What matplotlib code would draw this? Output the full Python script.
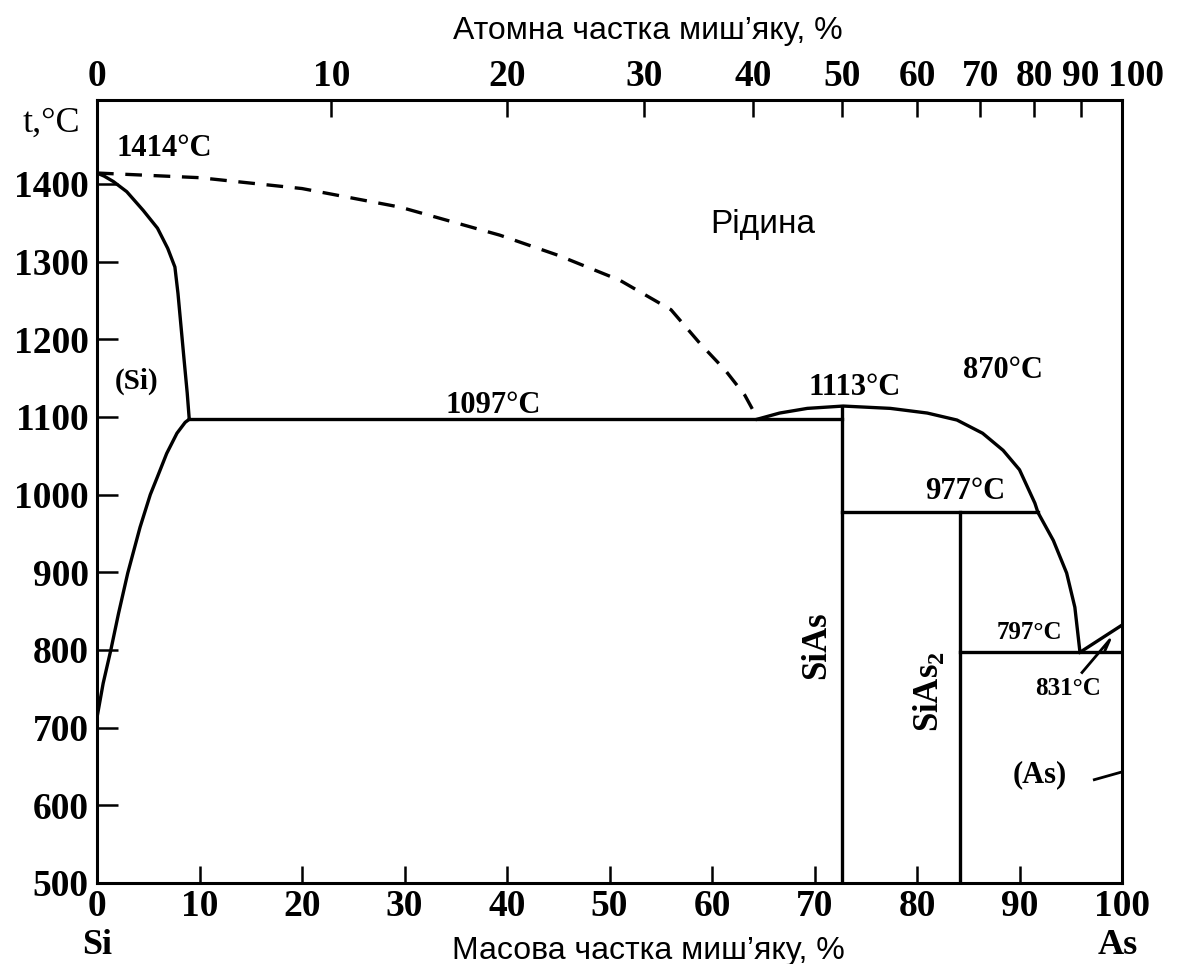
import matplotlib.pyplot as plt
import matplotlib.transforms as mtransforms
import numpy as np

plt.rcParams["font.family"] = ["Liberation Serif", "DejaVu Serif"]
plt.rcParams["mathtext.fontset"] = "custom"
plt.rcParams["mathtext.rm"] = "Liberation Serif"
plt.rcParams["mathtext.bf"] = "Liberation Serif:bold"

M_AS = 74.92
M_SI = 28.09

# ---- phase boundaries, (mass % As, t °C) ----
si_solidus_x = [0, 0.7, 1.6, 2.9, 4.5, 5.9, 6.9, 7.6, 7.9, 8.2, 8.5, 8.8, 9.0]
si_solidus_t = [1414, 1410, 1403, 1390, 1366, 1343, 1317, 1293, 1259, 1216, 1173, 1131, 1097]

si_solvus_x = [0, 0.6, 1.35, 2.1, 3.0, 4.2, 5.2, 5.9, 6.8, 7.8, 8.6, 9.0]
si_solvus_t = [713, 757, 800, 847, 899, 958, 1000, 1023, 1053, 1079, 1093, 1097]

liq_dash_x = [0, 10, 20, 29.6, 39.3, 45, 51, 56, 58.8, 61.3, 63.2, 64.4]
liq_dash_t = [1414, 1408, 1394, 1370, 1334, 1308, 1276, 1238, 1195, 1160, 1128, 1099]

liq_right_x = [64.4, 66.6, 69.3, 72.8, 77.4, 81.0, 83.9, 86.4, 88.4, 90.0,
               91.5, 91.8, 93.3, 94.6, 95.4, 95.9]
liq_right_t = [1097, 1105, 1111, 1114, 1111, 1105, 1096, 1079, 1057, 1032,
               989, 977, 941, 899, 855, 797]

as_liq_x = [95.9, 100]
as_liq_t = [797, 832]
leader_831_x = [96.1, 98.8, 98.3]
leader_831_t = [771, 813, 798]
leader_as_x = [97.3, 100]
leader_as_t = [633, 643]

eut_1097 = (9.0, 72.7, 1097)
per_977 = (72.7, 91.8, 977)
eut_797 = (84.2, 100, 797)
siAs_x, siAs_top = 72.7, 1113
siAs2_x, siAs2_top = 84.2, 977

labels = [
    ("1414°C", 1.95, 1445, 22),
    ("(Si)", 1.75, 1146, 21),
    ("1097°C", 34.0, 1115, 22),
    ("1113°C", 69.4, 1138, 22),
    ("870°C", 84.5, 1160, 22),
    ("977°C", 80.8, 1004, 22),
    ("797°C", 87.8, 823, 18),
    ("831°C", 91.5, 751, 18),
    ("(As)", 89.3, 639, 22),
]

mass_ticks = np.arange(0, 101, 10)
atom_ticks = np.arange(0, 101, 10)
t_ticks = np.arange(500, 1401, 100)


def atomic_to_mass(a):
    a = np.asarray(a, dtype=float)
    return 100 * a * M_AS / (a * M_AS + (100 - a) * M_SI + 1e-12)


def mass_to_atomic(w):
    w = np.asarray(w, dtype=float)
    return 100 * (w / M_AS) / (w / M_AS + (100 - w) / M_SI + 1e-12)


fig = plt.figure(figsize=(11.95, 9.64), dpi=100)
ax = fig.add_axes([97 / 1195, 81 / 964, 1025 / 1195, 783 / 964])

lw = 2.4
ax.plot(si_solidus_x, si_solidus_t, color="black", lw=lw)
ax.plot(si_solvus_x, si_solvus_t, color="black", lw=lw)
ax.plot(liq_dash_x, liq_dash_t, color="black", lw=lw, ls=(0, (5, 3.5)))
ax.plot(liq_right_x, liq_right_t, color="black", lw=lw)
ax.plot(as_liq_x, as_liq_t, color="black", lw=lw)
ax.plot(leader_831_x, leader_831_t, color="black", lw=2.0)
ax.plot(leader_as_x, leader_as_t, color="black", lw=2.0)

for x0, x1, t in [eut_1097, per_977, eut_797]:
    ax.plot([x0, x1], [t, t], color="black", lw=lw)
ax.plot([siAs_x, siAs_x], [500, siAs_top], color="black", lw=lw)
ax.plot([siAs2_x, siAs2_x], [500, siAs2_top], color="black", lw=lw)

for text, x, t, fs in labels:
    ax.text(x, t, text, fontsize=fs, fontweight="bold", va="center", ha="left")

ax.text(70.2, 806, "SiAs", fontsize=25, fontweight="bold", rotation=90,
        ha="center", va="center")
ax.text(81.1, 746, r"SiAs$_\mathbf{2}$", fontsize=25, fontweight="bold", rotation=90,
        ha="center", va="center")
ax.text(59.8, 1348, "Рідина", fontsize=24, family=["Liberation Sans"],
        ha="left", va="center")

ax.set_xlim(0, 100)
ax.set_ylim(500, 1508)
ax.set_xticks(mass_ticks)
ax.set_yticks(t_ticks)
ax.tick_params(direction="in", length=12, width=1.8, labelsize=27, pad=4)
ax.tick_params(axis="y", length=15, pad=6)
for lab in ax.get_xticklabels() + ax.get_yticklabels():
    lab.set_fontweight("bold")
for sp in ax.spines.values():
    sp.set_linewidth(2.2)

top = ax.secondary_xaxis("top", functions=(mass_to_atomic, atomic_to_mass))
top.set_xticks(atom_ticks)
top.tick_params(direction="in", length=12, width=1.8, labelsize=27, pad=4)
top_labels = top.get_xticklabels()
for lab in top_labels:
    lab.set_fontweight("bold")
# the last top labels are crowded: nudge 100 to the right as in the original
shift = mtransforms.ScaledTranslation(14 / 100, 0, fig.dpi_scale_trans)
top_labels[-1].set_transform(top_labels[-1].get_transform() + shift)

ax.text(-4.4, 1478, "t,°C", fontsize=26, ha="center", va="center", clip_on=False)
ax.text(0, 419, "Si", fontsize=26, fontweight="bold", ha="center", va="center", clip_on=False)
ax.text(99.6, 419, "As", fontsize=26, fontweight="bold", ha="center", va="center", clip_on=False)

fig.text(648 / 1195, 1 - 31 / 964, "Атомна частка миш’яку, %", fontsize=23,
         family=["Liberation Sans"], ha="center", va="center")
fig.text(648 / 1195, 1 - 951 / 964, "Масова частка миш’яку, %", fontsize=23,
         family=["Liberation Sans"], ha="center", va="center")

fig.savefig("out.png", dpi=100)
